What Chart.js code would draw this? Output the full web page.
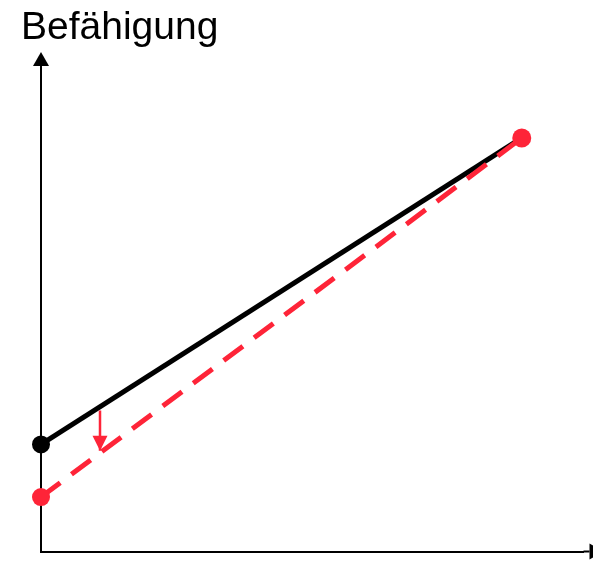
<!DOCTYPE html>
<html>
<head>
<meta charset="utf-8">
<script src="https://cdn.jsdelivr.net/npm/chart.js@4"></script>
<style>
  html, body { margin: 0; padding: 0; background: #fff; }
  #wrap { width: 593px; height: 561px; position: relative; }
</style>
</head>
<body>
<div id="wrap"><canvas id="chart"></canvas></div>
<script>
// values (axis units 0..100, no ticks shown)
const axisLabel = 'Befähigung';
const beforeX = [0, 88];
const beforeY = [22, 85];
const afterX = [0, 88];
const afterY = [11.2, 85];
const shiftX = [10.8, 10.8];
const shiftY = [29, 20.7];

const BLACK = '#000000';
const RED = '#fe2438';

const toPts = (xs, ys) => xs.map((x, i) => ({ x, y: ys[i] }));

// arrowheads on the axes + on the little shift arrow, and the axis label
const arrowPlugin = {
  id: 'arrows',
  afterDraw(chart) {
    const { ctx, chartArea: a } = chart;
    ctx.save();
    ctx.fillStyle = BLACK;
    ctx.strokeStyle = BLACK;
    // y axis
    ctx.beginPath();
    ctx.moveTo(a.left - 8, a.top + 1);
    ctx.lineTo(a.left + 8, a.top + 1);
    ctx.lineTo(a.left, a.top - 13);
    ctx.closePath();
    ctx.fill();
    // x axis: short extension, then head
    const xb = a.right + 6;
    ctx.lineWidth = 2;
    ctx.beginPath();
    ctx.moveTo(a.right, a.bottom);
    ctx.lineTo(xb, a.bottom);
    ctx.stroke();
    ctx.beginPath();
    ctx.moveTo(xb, a.bottom - 8);
    ctx.lineTo(xb, a.bottom + 8);
    ctx.lineTo(xb + 14, a.bottom);
    ctx.closePath();
    ctx.fill();

    // head of the shift arrow, tip at the dataset's last point
    const meta = chart.getDatasetMeta(2);
    const p0 = meta.data[0], p1 = meta.data[meta.data.length - 1];
    const ang = Math.atan2(p1.y - p0.y, p1.x - p0.x);
    const len = 15, half = 7.5;
    ctx.fillStyle = RED;
    ctx.translate(p1.x, p1.y);
    ctx.rotate(ang);
    ctx.beginPath();
    ctx.moveTo(0, 0);
    ctx.lineTo(-len, -half);
    ctx.lineTo(-len, half);
    ctx.closePath();
    ctx.fill();
    ctx.restore();

    ctx.save();
    ctx.fillStyle = BLACK;
    ctx.font = '39px "Liberation Sans", Arial, sans-serif';
    ctx.textBaseline = 'alphabetic';
    ctx.fillText(axisLabel, 21, 39);
    ctx.restore();
  }
};

new Chart(document.getElementById('chart'), {
  type: 'scatter',
  data: {
    datasets: [
      {
        label: 'vorher',
        data: toPts(beforeX, beforeY),
        showLine: true,
        clip: false,
        borderColor: BLACK,
        backgroundColor: BLACK,
        borderWidth: 5,
        pointRadius: [9, 0],
        pointBorderWidth: 0,
        order: 3,
      },
      {
        label: 'nachher',
        data: toPts(afterX, afterY),
        showLine: true,
        clip: false,
        borderColor: RED,
        backgroundColor: RED,
        borderWidth: 5,
        borderDash: [24, 14],
        pointRadius: [9, 9.5],
        pointBorderWidth: 0,
        order: 2,
      },
      {
        label: 'Verschiebung',
        data: toPts(shiftX, shiftY),
        showLine: true,
        clip: false,
        borderColor: RED,
        borderWidth: 2.5,
        pointRadius: 0,
        order: 1,
      },
    ],
  },
  options: {
    responsive: true,
    maintainAspectRatio: false,
    animation: false,
    layout: { padding: { left: 41, right: 0, top: 65, bottom: 8 } },
    plugins: { legend: { display: false }, tooltip: { enabled: false }, title: { display: false } },
    scales: {
      x: {
        type: 'linear', min: 0, max: 99.3,
        grid: { display: false, drawTicks: false },
        ticks: { display: false },
        border: { color: BLACK, width: 2 },
      },
      y: {
        type: 'linear', min: 0, max: 100,
        grid: { display: false, drawTicks: false },
        ticks: { display: false },
        border: { color: BLACK, width: 2 },
      },
    },
  },
  plugins: [arrowPlugin],
});
</script>
</body>
</html>
